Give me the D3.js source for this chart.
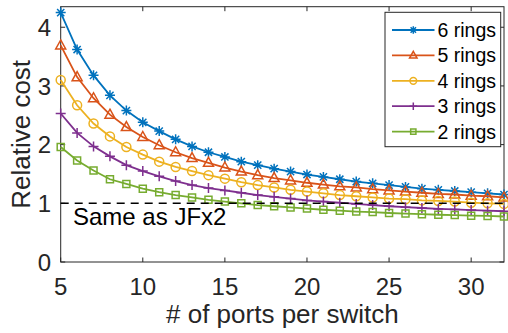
<!DOCTYPE html>
<html>
<head>
<meta charset="utf-8">
<script src="https://cdn.jsdelivr.net/npm/d3@7"></script>
<style>
  html, body { margin: 0; padding: 0; background: #fff; }
  svg { display: block; font-family: "Liberation Sans", Arial, Helvetica, sans-serif; }
</style>
</head>
<body>
<svg id="chart" width="508" height="333"></svg>
<script>
// ports per switch, 5..32
const ports = [5, 6, 7, 8, 9, 10, 11, 12, 13, 14, 15, 16, 17, 18, 19, 20, 21, 22, 23, 24, 25, 26, 27, 28, 29, 30, 31, 32];

const rings6 = [4.25, 3.62, 3.18, 2.84, 2.58, 2.38, 2.23, 2.09, 1.97, 1.87, 1.79, 1.71, 1.65, 1.59, 1.54, 1.49, 1.45, 1.41, 1.37, 1.34, 1.31, 1.28, 1.25, 1.23, 1.21, 1.19, 1.17, 1.15];
const rings5 = [3.69, 3.15, 2.79, 2.51, 2.30, 2.13, 1.99, 1.87, 1.77, 1.69, 1.61, 1.54, 1.48, 1.43, 1.39, 1.35, 1.32, 1.29, 1.27, 1.24, 1.22, 1.20, 1.18, 1.16, 1.15, 1.13, 1.12, 1.10];
const rings4 = [3.10, 2.67, 2.36, 2.14, 1.96, 1.83, 1.71, 1.62, 1.55, 1.48, 1.42, 1.36, 1.31, 1.27, 1.23, 1.20, 1.17, 1.14, 1.12, 1.10, 1.08, 1.07, 1.05, 1.04, 1.03, 1.01, 1.00, 0.99];
const rings3 = [2.53, 2.20, 1.97, 1.80, 1.65, 1.55, 1.46, 1.38, 1.31, 1.26, 1.22, 1.18, 1.14, 1.11, 1.08, 1.05, 1.03, 1.01, 0.99, 0.97, 0.95, 0.935, 0.92, 0.905, 0.895, 0.885, 0.875, 0.865];
const rings2 = [1.96, 1.73, 1.56, 1.41, 1.33, 1.25, 1.19, 1.14, 1.10, 1.06, 1.03, 1.00, 0.97, 0.95, 0.93, 0.91, 0.89, 0.875, 0.86, 0.85, 0.835, 0.825, 0.815, 0.805, 0.80, 0.79, 0.785, 0.775];

const seriesNames = ["6 rings", "5 rings", "4 rings", "3 rings", "2 rings"];
const xTicks = [5, 10, 15, 20, 25, 30];
const yTicks = [0, 1, 2, 3, 4];
const baseline = 1;
const baselineLabel = "Same as JFx2";

const series = [
  { name: seriesNames[0], values: rings6, color: "#0072BD", marker: "asterisk" },
  { name: seriesNames[1], values: rings5, color: "#D95319", marker: "triangle" },
  { name: seriesNames[2], values: rings4, color: "#EDB120", marker: "circle" },
  { name: seriesNames[3], values: rings3, color: "#7E2F8E", marker: "plus" },
  { name: seriesNames[4], values: rings2, color: "#77AC30", marker: "square" }
];

const axisColor = "#262626";
const margin = { left: 60.7, right: 4, top: 6.7, bottom: 71 };
const width = 508, height = 333;

const svg = d3.select("#chart");

const x = d3.scaleLinear().domain([5, 32]).range([margin.left, width - margin.right]);
const y = d3.scaleLinear().domain([0, 4.35]).range([height - margin.bottom, margin.top]);

// marker drawing
function drawMarker(g, type, color, s) {
  s = s || 1;
  if (type === "circle") {
    g.append("circle").attr("r", 4.5 * s).attr("fill", "none").attr("stroke", color).attr("stroke-width", 1.5);
    return;
  }
  let d;
  if (type === "asterisk") d = `M${-5*s},0H${5*s}M0,${-5*s}V${5*s}M${-3.6*s},${-3.6*s}L${3.6*s},${3.6*s}M${-3.6*s},${3.6*s}L${3.6*s},${-3.6*s}`;
  else if (type === "triangle") d = `M0,${-5.5*s}L${5*s},${3.5*s}L${-5*s},${3.5*s}Z`;
  else if (type === "plus") d = `M${-5*s},0H${5*s}M0,${-5*s}V${5*s}`;
  else d = `M${-3.5*s},${-3.5*s}H${3.5*s}V${3.5*s}H${-3.5*s}Z`;
  g.append("path").attr("d", d).attr("fill", "none").attr("stroke", color).attr("stroke-width", 1.5);
}

// axes box with inward ticks
const x0 = x.range()[0], x1 = x.range()[1], y0 = y.range()[0], y1 = y.range()[1];
const axes = svg.append("g");
axes.append("rect")
  .attr("x", x0).attr("y", y1).attr("width", x1 - x0).attr("height", y0 - y1)
  .attr("fill", "none").attr("stroke", axisColor).attr("stroke-width", 1);

const tickLen = 4.5;
xTicks.forEach(t => {
  axes.append("line").attr("x1", x(t)).attr("x2", x(t)).attr("y1", y0).attr("y2", y0 - tickLen).attr("stroke", axisColor);
  axes.append("line").attr("x1", x(t)).attr("x2", x(t)).attr("y1", y1).attr("y2", y1 + tickLen).attr("stroke", axisColor);
  axes.append("text").attr("x", x(t)).attr("y", 295).attr("text-anchor", "middle")
    .attr("font-size", 24).attr("fill", axisColor).text(t);
});
yTicks.forEach(t => {
  axes.append("line").attr("x1", x0).attr("x2", x0 + tickLen).attr("y1", y(t)).attr("y2", y(t)).attr("stroke", axisColor);
  axes.append("line").attr("x1", x1).attr("x2", x1 - tickLen).attr("y1", y(t)).attr("y2", y(t)).attr("stroke", axisColor);
  axes.append("text").attr("x", 51).attr("y", y(t)).attr("dy", "0.36em").attr("text-anchor", "end")
    .attr("font-size", 24).attr("fill", axisColor).text(t);
});

svg.append("text").attr("x", (x0 + x1) / 2).attr("y", 323).attr("text-anchor", "middle")
  .attr("font-size", 26).attr("fill", axisColor).text("# of ports per switch");
svg.append("text").attr("transform", `translate(30,${(y0 + y1) / 2}) rotate(-90)`).attr("text-anchor", "middle")
  .attr("font-size", 26).attr("fill", axisColor).text("Relative cost");

// series
const line = d3.line().x((d, i) => x(ports[i])).y(d => y(d));
series.forEach(s => {
  const g = svg.append("g");
  g.append("path").datum(s.values).attr("d", line)
    .attr("fill", "none").attr("stroke", s.color).attr("stroke-width", 1.8);
  g.selectAll("g.m").data(s.values).enter().append("g")
    .attr("class", "m")
    .attr("transform", (d, i) => `translate(${x(ports[i])},${y(d)})`)
    .each(function () { drawMarker(d3.select(this), s.marker, s.color); });
});

// reference line
svg.append("line")
  .attr("x1", x(5)).attr("x2", x(32)).attr("y1", y(baseline)).attr("y2", y(baseline))
  .attr("stroke", "#000").attr("stroke-width", 1.5).attr("stroke-dasharray", "8,6");
svg.append("text").attr("x", 73).attr("y", 225).attr("font-size", 24).attr("fill", "#000").text(baselineLabel);

// legend
const lg = svg.append("g");
lg.append("rect").attr("x", 385).attr("y", 12.3).attr("width", 115.7).attr("height", 134.4)
  .attr("fill", "#fff").attr("stroke", axisColor).attr("stroke-width", 1);
series.forEach((s, i) => {
  const cy = 30 + i * 25.4;
  lg.append("line").attr("x1", 392).attr("x2", 434.5).attr("y1", cy).attr("y2", cy)
    .attr("stroke", s.color).attr("stroke-width", 1.8);
  const mg = lg.append("g").attr("transform", `translate(413.3,${cy})`);
  drawMarker(mg, s.marker, s.color, 0.75);
  lg.append("text").attr("x", 437.5).attr("y", cy).attr("dy", "0.36em")
    .attr("font-size", 19.5).attr("fill", "#000").text(s.name);
});
</script>
</body>
</html>
